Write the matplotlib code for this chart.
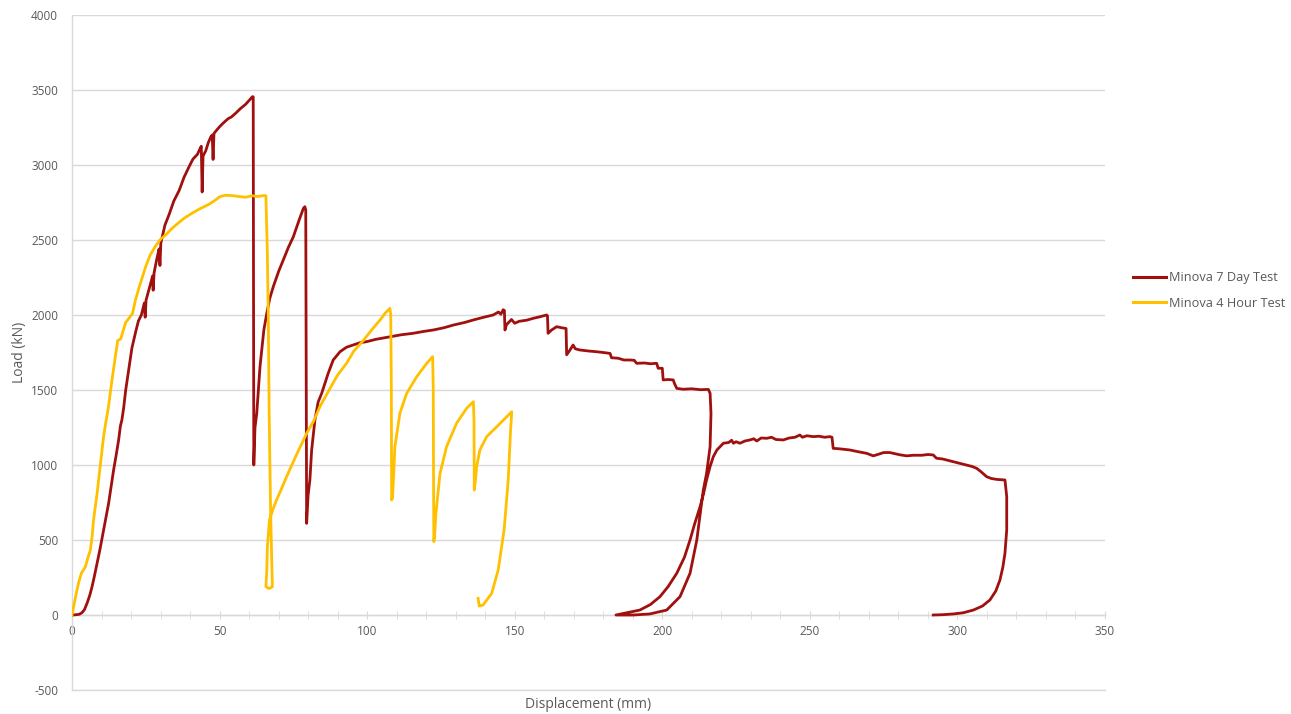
import matplotlib
matplotlib.use("Agg")
import matplotlib.pyplot as plt
from matplotlib.ticker import MultipleLocator

# Minova 7 Day Test - displacement (mm) / load (kN)
red_x = [0, 1.5, 2.5, 3.4, 4.2, 5.1, 6, 6.8, 7.6, 8.5, 9.5, 10.7, 11.5, 12.4, 13.2, 14.1, 15, 15.8,
         16.4, 16.9, 17.5, 18.2, 19.4, 20.3, 21.6, 22.5, 23.5, 24.5, 24.8, 25.1, 26.5, 27.3, 27.5, 27.8,
         28.8, 29.5, 29.8, 30.1, 31.5, 32.9, 34.5, 36.3, 38, 39.7, 41, 42.5, 43.4, 43.8, 44.1, 44.4,
         45.3, 46.2, 47, 47.5, 47.8, 48.1, 48.7, 50, 51, 52.1, 53, 54, 55.5, 57, 58.8, 60, 61.1, 61.4,
         61.6, 62, 62.6, 63.7, 65, 66, 67, 68.2, 70, 71.6, 73.3, 75, 76.9, 78.4, 78.9, 79.2, 79.5,
         80, 80.6, 81.2, 82.3, 83.4, 84.6, 86.8, 88.5, 90.8, 93, 95.3, 97.5, 99.8, 103, 107.7, 111.5,
         115.6, 119, 122.4, 126, 129.2, 133, 136, 139.5, 142.7, 144.5, 145.3, 146.1, 146.5, 146.7,
         147.2, 148.9, 150, 151.5, 154, 156.3, 158.5, 160.8, 161.1, 161.3, 162.5, 164.2, 165.9, 167.4,
         167.6, 168.5, 169.8, 170.5, 172, 175, 177.8, 180, 182.3, 182.8, 185, 187, 189, 190.5, 191.3,
         194, 196, 198.1, 198.6, 200, 200.3, 202, 203.7, 204.2, 204.9, 207, 210, 213, 215.6, 216.2,
         216.5, 216.2, 215, 213.9, 213.3, 211.7, 209.4, 206, 201.5, 195.8, 190.2, 184.3, 188, 192.4,
         196, 199.2, 202, 204.9, 207.5, 209.4, 211, 212.8, 214, 215, 216.2, 217.3, 218.5, 220.7,
         222.5, 223.5, 224.1, 225, 226.3, 228, 229.7, 231, 232, 233.5, 235.4, 237, 238.5, 241, 243,
         245, 246.6, 247.5, 249, 251.2, 253, 255, 256.8, 257.5, 257.9, 260, 263.6, 266, 269.2, 271.5,
         273, 275, 277.1, 279, 280.5, 282.8, 285, 288, 290, 291.8, 292.9, 295, 298.6, 301, 303.1,
         305, 306.5, 308, 309.9, 311.5, 313.3, 316.1, 316.7, 316.7, 316.1, 315.4, 314.4, 313, 311,
         308.5, 305.4, 302, 298.6, 295, 291.8]
red_y = [0, 2, 5, 16, 35, 78, 130, 189, 260, 344, 440, 567, 650, 744, 850, 967, 1070, 1167,
         1260, 1300, 1380, 1500, 1660, 1780, 1890, 1960, 2000, 2080, 1985, 2100, 2200, 2260, 2165, 2280,
         2380, 2440, 2330, 2480, 2600, 2670, 2760, 2830, 2920, 2990, 3040, 3071, 3110, 3125, 2820, 3060,
         3094, 3150, 3186, 3200, 3037, 3210, 3225, 3255, 3275, 3295, 3310, 3320, 3346, 3375, 3404, 3430, 3455, 3455,
         1000, 1250, 1345, 1656, 1900, 2011, 2110, 2189, 2290, 2367, 2450, 2522, 2630, 2711, 2722, 2700, 611,
         800, 900, 1100, 1300, 1420, 1478, 1611, 1700, 1755, 1785, 1800, 1815, 1822, 1838, 1855, 1868,
         1878, 1890, 1900, 1915, 1933, 1950, 1967, 1985, 2000, 2020, 2005, 2035, 2030, 1900,
         1935, 1970, 1945, 1958, 1965, 1978, 1988, 2000, 1995, 1878, 1900, 1922, 1915, 1910,
         1735, 1760, 1800, 1775, 1767, 1760, 1755, 1750, 1744, 1715, 1712, 1700, 1700, 1698, 1678,
         1680, 1675, 1678, 1645, 1645, 1567, 1570, 1567, 1540, 1511, 1505, 1508, 1502, 1504, 1478,
         1345, 1122, 944, 833, 744, 500, 278, 122, 33, 7, 0, 0, 15, 33,
         70, 122, 190, 278, 385, 500, 610, 722, 810, 900, 990, 1056, 1100, 1145,
         1150, 1165, 1145, 1155, 1145, 1160, 1167, 1175, 1160, 1180, 1178, 1185, 1170, 1167, 1180,
         1185, 1200, 1185, 1195, 1189, 1192, 1185, 1189, 1185, 1111, 1108, 1100, 1090, 1078, 1061,
         1070, 1083, 1083, 1075, 1068, 1061, 1065, 1065, 1070, 1067, 1045, 1040, 1022, 1010, 1000,
         990, 978, 955, 922, 910, 904, 900, 789, 567, 411, 320, 233, 160, 100,
         60, 33, 15, 7, 2, 0]

# Minova 4 Hour Test
yel_x = [0, 0.8, 1.5, 2.3, 3.2, 4.5, 5.5, 6.2, 6.8, 7.3, 8.5, 9.6, 10.7, 11.5, 12.3, 13.5, 14.9,
         15.5, 16.5, 17.1, 18.2, 19.4, 20.5, 21.5, 22.8, 25, 26.5, 28.4, 30, 31.8, 33.5, 35.2, 38,
         40.8, 43.5, 46.4, 48.5, 50.1, 52, 54.3, 56.5, 58.8, 61, 63, 65, 65.7, 66.2, 66.5, 66.8,
         67.3, 67.7, 67.9, 66.8, 65.7, 66, 66.2, 66.9, 68, 69.3, 70.5, 72.7, 76.1, 79.5, 81.8, 84,
         87.4, 90, 93.1, 95.5, 98.7, 101.5, 104.4, 106, 107.7, 108, 108.2, 108.3, 108.6, 108.9,
         109.4, 111.1, 113.4, 116.8, 120.2, 122.2, 122.4, 122.5, 122.6, 122.9, 123.3, 124.7, 126.9,
         130.3, 133.7, 136, 136.2, 136.3, 136.6, 137.1, 138.2, 140.5, 143.9, 147.3, 149, 148.6,
         147.8, 146.4, 144.4, 142.2, 139.3, 138, 137.6]
yel_y = [0, 80, 150, 220, 280, 320, 390, 430, 520, 633, 811, 1000, 1189, 1290, 1380, 1560, 1752,
         1830, 1840, 1880, 1950, 1981, 2010, 2100, 2188, 2325, 2400, 2463, 2505, 2535, 2570, 2600, 2645,
         2680, 2710, 2738, 2765, 2789, 2798, 2796, 2790, 2785, 2795, 2790, 2796, 2795, 2400, 2011, 1345,
         678, 350, 189, 176, 189, 300, 456, 633, 700, 767, 820, 922, 1070, 1211, 1290, 1389,
         1510, 1600, 1680, 1760, 1830, 1900, 1967, 2010, 2044, 2000, 1500, 767, 780, 900,
         1122, 1345, 1478, 1589, 1678, 1722, 1500, 900, 489, 540, 678, 944, 1122,
         1278, 1378, 1422, 1300, 833, 880, 989, 1100, 1189, 1255, 1322, 1355, 1233,
         900, 567, 300, 144, 67, 60, 111]

series_labels = ["Minova 7 Day Test", "Minova 4 Hour Test"]

plt.rcParams['font.family'] = ['Open Sans', 'DejaVu Sans']
plt.rcParams['axes.unicode_minus'] = False
txt = '#595959'
grid = '#D9D9D9'

fig = plt.figure(figsize=(12.91, 7.14), dpi=100)
ax = fig.add_axes([72 / 1291, 1 - 690 / 714, (1105 - 72) / 1291, (690 - 15) / 714])

ax.plot(red_x, red_y, color='#A0100E', lw=2.0, label=series_labels[0], zorder=3)
ax.plot(yel_x, yel_y, color='#FFC000', lw=2.0, label=series_labels[1], zorder=3)

ax.set_xlim(0, 350)
ax.set_ylim(-500, 4000)
ax.xaxis.set_major_locator(MultipleLocator(50))
ax.xaxis.set_minor_locator(MultipleLocator(10))
ax.yaxis.set_major_locator(MultipleLocator(500))
ax.grid(axis='y', color=grid, lw=1.0, zorder=0)
ax.axhline(-500, color=grid, lw=1.0, clip_on=False, zorder=0)

for s in ['top', 'right']:
    ax.spines[s].set_visible(False)
ax.spines['bottom'].set_position(('data', 0))
ax.spines['bottom'].set_color(grid)
ax.spines['left'].set_color(grid)
ax.spines['bottom'].set_linewidth(1.0)
ax.spines['left'].set_linewidth(1.0)

ax.tick_params(axis='x', which='both', direction='inout', length=6, color=grid,
               labelsize=8.5, labelcolor=txt, pad=4)
ax.tick_params(axis='y', length=0, labelsize=8.5, labelcolor=txt, pad=10)

ax.set_xlabel('Displacement (mm)', fontsize=10, color=txt)
ax.xaxis.set_label_coords(0.5, -0.011, transform=ax.transAxes)
ax.xaxis.label.set_va('top')
ax.set_ylabel('Load (kN)', fontsize=10, color=txt)
ax.yaxis.set_label_coords(-0.044, 0.5)

leg = ax.legend(loc='center left', bbox_to_anchor=(1.027, 0.592), frameon=False,
                borderaxespad=0, borderpad=0, handlelength=2.6, handletextpad=0.25,
                labelspacing=1.0, fontsize=9.2)
for t in leg.get_texts():
    t.set_color(txt)
for l in leg.get_lines():
    l.set_linewidth(2.2)

fig.savefig('out.png', dpi=100)
